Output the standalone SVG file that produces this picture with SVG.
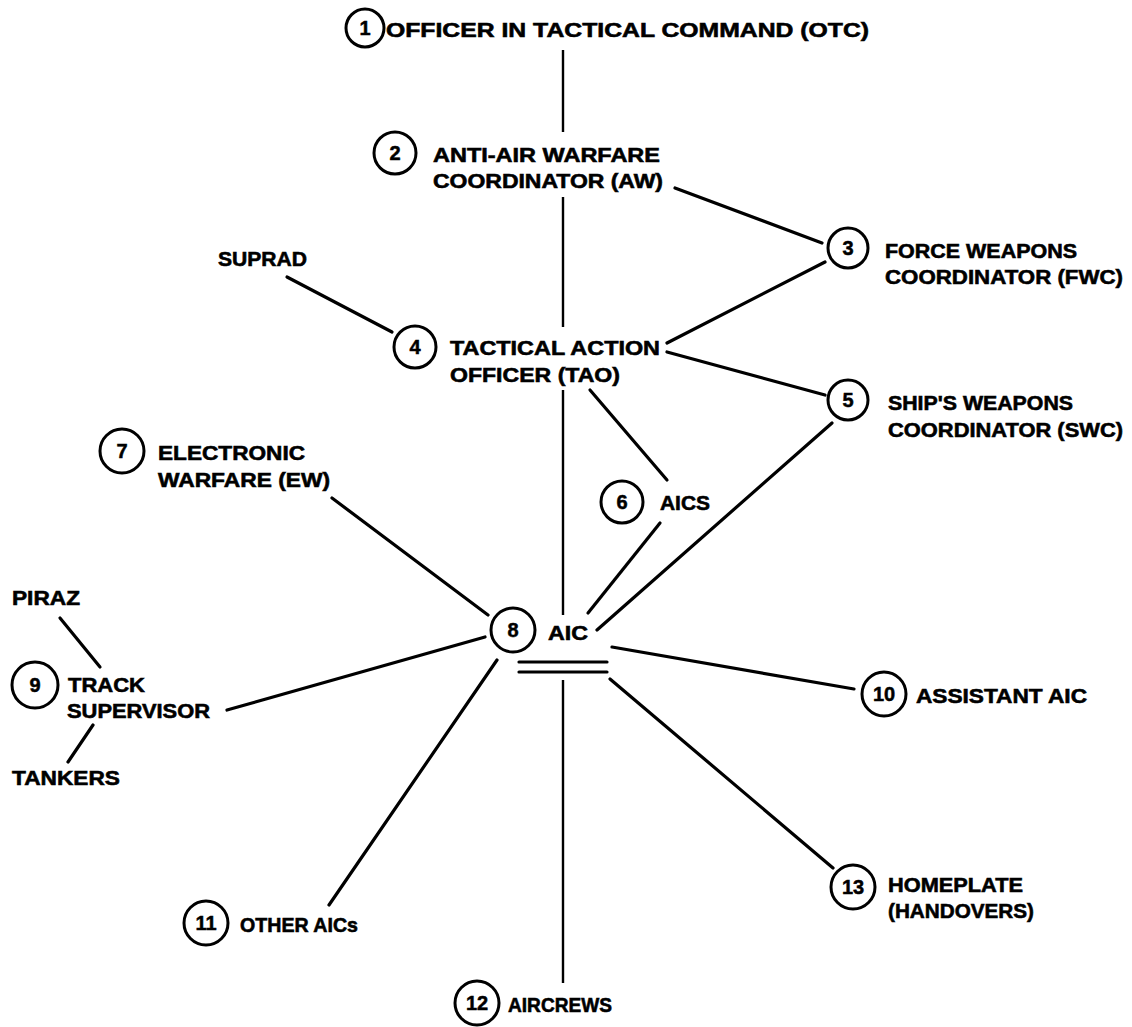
<svg xmlns="http://www.w3.org/2000/svg" width="1132" height="1027" viewBox="0 0 1132 1027">
<style>
.bg{fill:#fff}
.c{fill:#fff;stroke:#000;stroke-width:3}
.n{font-family:"Liberation Sans",Arial,sans-serif;font-weight:bold;font-size:20px;fill:#000;text-anchor:middle;stroke:#000;stroke-width:0.5}
.t{font-family:"Liberation Sans",Arial,sans-serif;font-weight:bold;font-size:21px;fill:#000;stroke:#000;stroke-width:0.6}
.l{stroke:#000;stroke-width:3.2;stroke-linecap:round;fill:none}
.v{stroke:#000;stroke-width:2.4;fill:none}
</style>
<rect class="bg" x="0" y="0" width="1132" height="1027"/>
<g id="connectors">
<path class="v" d="M563 50V132M563 197V327M563 390V615M563 680V983"/>
<path class="l" d="M675 188L822 243"/>
<path class="l" d="M287 277L392 332"/>
<path class="l" d="M667 343L825 262"/>
<path class="l" d="M667 352L825 395"/>
<path class="l" d="M590 390L667 480"/>
<path class="l" d="M332 498L488 615"/>
<path class="l" d="M660 523L588 613"/>
<path class="l" d="M832 423L597 630"/>
<path class="l" d="M60 618L100 667"/>
<path class="l" d="M93 725L68 762"/>
<path class="l" d="M227 710L485 637"/>
<path class="l" d="M519 662H607M519 672H607"/>
<path class="l" d="M612 647L854 689"/>
<path class="l" d="M610 679L833 868"/>
<path class="l" d="M497 660L329 905"/>
</g>
<g id="n1"><circle class="c" cx="365" cy="28" r="19"/><text class="n" x="365" y="35">1</text><text class="t" x="386" y="37" textLength="483" lengthAdjust="spacingAndGlyphs">OFFICER IN TACTICAL COMMAND (OTC)</text></g>
<g id="n2"><circle class="c" cx="395" cy="153" r="21"/><text class="n" x="395" y="160">2</text><text class="t" x="433" y="162" textLength="227" lengthAdjust="spacingAndGlyphs">ANTI-AIR WARFARE</text><text class="t" x="433" y="188" textLength="230" lengthAdjust="spacingAndGlyphs">COORDINATOR (AW)</text></g>
<g id="n3"><circle class="c" cx="848" cy="248" r="20"/><text class="n" x="848" y="255">3</text><text class="t" x="885" y="258" textLength="192" lengthAdjust="spacingAndGlyphs">FORCE WEAPONS</text><text class="t" x="885" y="284" textLength="238" lengthAdjust="spacingAndGlyphs">COORDINATOR (FWC)</text></g>
<g id="suprad"><text class="t" x="218" y="266" textLength="89" lengthAdjust="spacingAndGlyphs">SUPRAD</text></g>
<g id="n4"><circle class="c" cx="415" cy="347" r="21"/><text class="n" x="415" y="354">4</text><text class="t" x="450" y="355" textLength="210" lengthAdjust="spacingAndGlyphs">TACTICAL ACTION</text><text class="t" x="450" y="382" textLength="170" lengthAdjust="spacingAndGlyphs">OFFICER (TAO)</text></g>
<g id="n5"><circle class="c" cx="848" cy="400" r="20"/><text class="n" x="848" y="407">5</text><text class="t" x="888" y="410" textLength="185" lengthAdjust="spacingAndGlyphs">SHIP'S WEAPONS</text><text class="t" x="888" y="437" textLength="235" lengthAdjust="spacingAndGlyphs">COORDINATOR (SWC)</text></g>
<g id="n6"><circle class="c" cx="622" cy="502" r="21"/><text class="n" x="622" y="509">6</text><text class="t" x="660" y="510" textLength="50" lengthAdjust="spacingAndGlyphs">AICS</text></g>
<g id="n7"><circle class="c" cx="122" cy="451" r="22"/><text class="n" x="122" y="458">7</text><text class="t" x="158" y="460" textLength="147" lengthAdjust="spacingAndGlyphs">ELECTRONIC</text><text class="t" x="158" y="487" textLength="172" lengthAdjust="spacingAndGlyphs">WARFARE (EW)</text></g>
<g id="n8"><circle class="c" cx="513" cy="630" r="22"/><text class="n" x="513" y="637">8</text><text class="t" x="548" y="640" textLength="40" lengthAdjust="spacingAndGlyphs">AIC</text></g>
<g id="piraz"><text class="t" x="12" y="605" textLength="68" lengthAdjust="spacingAndGlyphs">PIRAZ</text></g>
<g id="n9"><circle class="c" cx="35" cy="685" r="23"/><text class="n" x="35" y="692">9</text><text class="t" x="68" y="692" textLength="77" lengthAdjust="spacingAndGlyphs">TRACK</text><text class="t" x="67" y="718" textLength="143" lengthAdjust="spacingAndGlyphs">SUPERVISOR</text></g>
<g id="tankers"><text class="t" x="12" y="785" textLength="108" lengthAdjust="spacingAndGlyphs">TANKERS</text></g>
<g id="n10"><circle class="c" cx="884" cy="694" r="22"/><text class="n" x="884" y="701">10</text><text class="t" x="916" y="703" textLength="171" lengthAdjust="spacingAndGlyphs">ASSISTANT AIC</text></g>
<g id="n11"><circle class="c" cx="206" cy="923" r="22"/><text class="n" x="206" y="930">11</text><text class="t" x="240" y="932" textLength="118" lengthAdjust="spacingAndGlyphs">OTHER AICs</text></g>
<g id="n12"><circle class="c" cx="477" cy="1003" r="22"/><text class="n" x="477" y="1010">12</text><text class="t" x="508" y="1012" textLength="104" lengthAdjust="spacingAndGlyphs">AIRCREWS</text></g>
<g id="n13"><circle class="c" cx="853" cy="887" r="22"/><text class="n" x="853" y="894">13</text><text class="t" x="888" y="892" textLength="135" lengthAdjust="spacingAndGlyphs">HOMEPLATE</text><text class="t" x="888" y="918" textLength="146" lengthAdjust="spacingAndGlyphs">(HANDOVERS)</text></g>
</svg>
